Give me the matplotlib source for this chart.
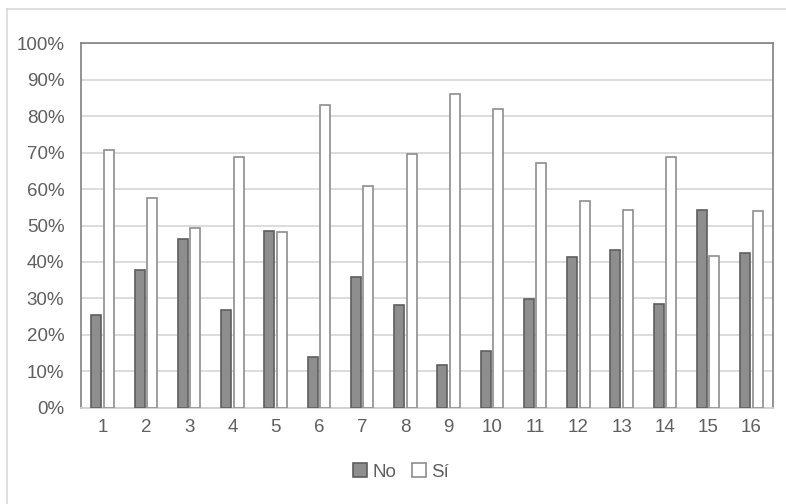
import matplotlib
matplotlib.use("Agg")
import matplotlib.pyplot as plt
import numpy as np
from matplotlib.lines import Line2D

categories = [str(i) for i in range(1, 17)]
no_vals = [25.4, 37.8, 46.3, 26.8, 48.6, 13.8, 36.0, 28.2, 11.8, 15.6, 29.9, 41.3, 43.3, 28.5, 54.3, 42.4]
si_vals = [70.7, 57.6, 49.2, 68.8, 48.2, 83.1, 60.8, 69.6, 86.2, 82.0, 67.1, 56.6, 54.2, 68.8, 41.7, 54.0]
y_ticks = [0, 10, 20, 30, 40, 50, 60, 70, 80, 90, 100]
y_labels = [f"{v}%" for v in y_ticks]
series_names = ["No", "Sí"]

plt.rcParams['font.family'] = ['Liberation Sans', 'DejaVu Sans']
text_color = "#5f5f5f"

fig = plt.figure(figsize=(7.86, 5.04), dpi=100)
ax = fig.add_axes([81/786, 1-407.7/504, (773-81)/786, (407.7-43.3)/504])

x = np.arange(1, len(categories) + 1)
w = 0.235
off = 0.145
ax.bar(x - off, no_vals, width=w, color="#8e8e8e", edgecolor="#5e5e5e", linewidth=1.2, zorder=3, label=series_names[0])
ax.bar(x + off, si_vals, width=w, color="white", edgecolor="#8e8e8e", linewidth=1.2, zorder=3, label=series_names[1])

ax.set_xlim(0.5, 16.5)
ax.set_ylim(0, 100)
ax.set_yticks(y_ticks)
ax.set_yticklabels(y_labels)
ax.set_xticks(x)
ax.set_xticklabels(categories)
ax.tick_params(axis='both', length=0, labelsize=13.5, labelcolor=text_color)
ax.tick_params(axis='y', pad=12)
ax.tick_params(axis='x', pad=8)
ax.yaxis.grid(True, color="#d9d9d9", linewidth=1.3, zorder=0)
ax.set_axisbelow(True)
for s in ['left', 'top', 'right']:
    ax.spines[s].set_color("#808080")
    ax.spines[s].set_linewidth(1.2)
ax.spines['bottom'].set_color("#d0d0d0")
ax.spines['bottom'].set_linewidth(1.3)

# outer chart border (left and top visible)
fig.add_artist(Line2D([7/786, 7/786], [0, 1-9/504], transform=fig.transFigure, color="#d9d9d9", linewidth=1.2))
fig.add_artist(Line2D([7/786, 1], [1-9/504, 1-9/504], transform=fig.transFigure, color="#d9d9d9", linewidth=1.2))

leg = fig.legend(loc='center', bbox_to_anchor=(401/786, 1-472/504), ncol=2, frameon=False,
                 fontsize=13.5, handlelength=0.75, handleheight=0.75, handletextpad=0.3, columnspacing=0.8)
for t in leg.get_texts():
    t.set_color(text_color)

fig.savefig("out.png", dpi=100)
